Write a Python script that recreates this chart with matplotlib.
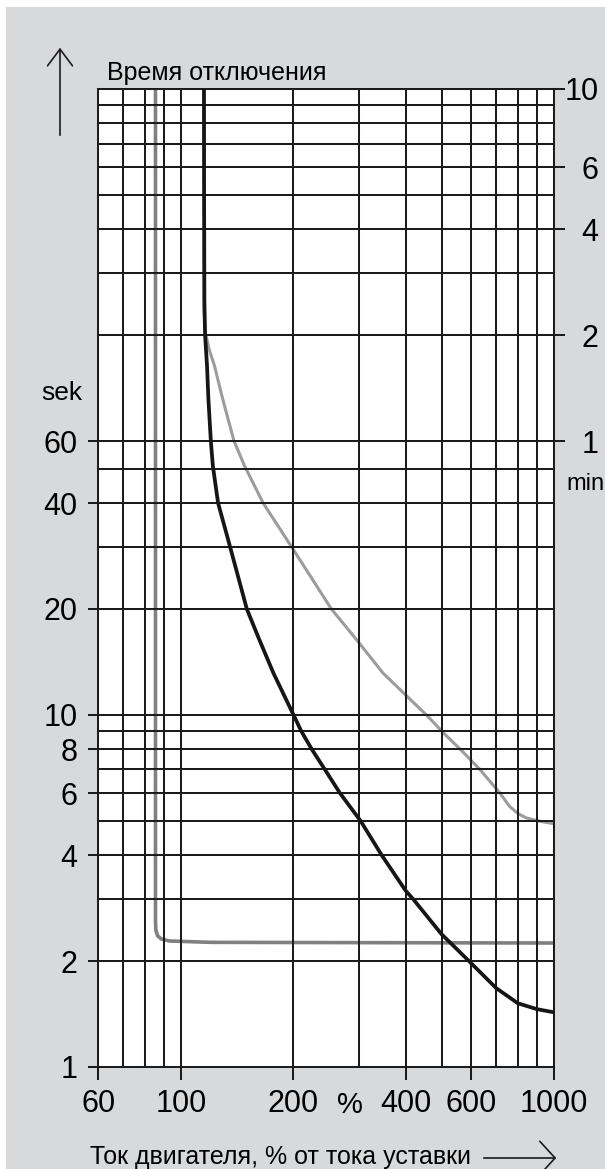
import numpy as np
import matplotlib.pyplot as plt
from matplotlib.patches import Rectangle

# grid and tick values (current in %, time in s)
x_grid = [60, 70, 80, 90, 100, 200, 300, 400, 500, 600, 700, 800, 900, 1000]
y_grid = [1, 2, 3, 4, 5, 6, 7, 8, 9, 10, 20, 30, 40, 50, 60,
          120, 180, 240, 300, 360, 420, 480, 540, 600]
x_ticks = [60, 100, 200, 400, 600, 1000]
sec_ticks = [1, 2, 4, 6, 8, 10, 20, 40, 60]
min_ticks = [1, 2, 4, 6, 10]

# dark curve
black_x = [115.2, 115.3, 115.5, 116.0, 117.4, 118.4, 120.2, 121.7, 125.7, 135.4,
           150.1, 162, 176.9, 200.3, 210, 224, 243, 266.7, 303, 345, 400, 419,
           500, 526, 600, 700, 800, 900, 1000]
black_t = [600, 300, 150, 120, 98, 79, 60, 51, 40, 30,
           20, 16.4, 13.15, 10, 9, 8, 7, 6, 5, 4, 3.17, 3,
           2.38, 2.26, 1.97, 1.675, 1.517, 1.46, 1.43]

# light gray curve
gray_x = [115.3, 115.3, 116.2, 119.0, 123, 129.3, 138.7, 148, 166, 198,
          253, 295, 348, 400, 455, 505, 560, 633, 716, 760, 800, 843, 916, 1000]
gray_t = [600, 140, 122, 109, 98, 79, 60, 51, 40, 30,
          20, 16.4, 13.15, 11.4, 10, 8.9, 8, 7, 6.0, 5.5, 5.25, 5.10, 4.99, 4.91]

# gray limit curve (vertical + horizontal)
limit_x = [85.4, 85.4, 85.6, 86.5, 88.5, 93, 120, 1000]
limit_t = [600, 2.6, 2.45, 2.36, 2.31, 2.28, 2.26, 2.25]

plt.rcParams['font.family'] = ['Liberation Sans', 'DejaVu Sans']
ink = '#1c1c1c'

fig = plt.figure(figsize=(6.05, 11.69), dpi=100)
fig.patch.set_facecolor('white')
fig.add_artist(Rectangle((6 / 605, 0), 1, (1169 - 7) / 1169, transform=fig.transFigure,
                         facecolor='#d8d9db', edgecolor='none', zorder=0))

ax = fig.add_axes([98.3 / 605, 102 / 1169, 455.7 / 605, 978 / 1169])
ax.set_facecolor('white')
ax.set_xscale('log')
ax.set_yscale('log')
ax.set_xlim(60, 1000)
ax.set_ylim(1, 600)

ax.plot(limit_x, limit_t, color='#808080', lw=2.6, zorder=1, solid_capstyle='butt')
ax.plot(gray_x, gray_t, color='#9c9c9c', lw=2.2, zorder=1)
ax.plot(black_x, black_t, color='#161616', lw=2.7, zorder=3)

ax.set_xticks(x_grid, labels=[''] * len(x_grid), minor=True)
ax.set_yticks(y_grid, labels=[''] * len(y_grid), minor=True)
ax.set_xticks(x_ticks, labels=[str(v) for v in x_ticks])
ax.set_yticks(sec_ticks, labels=[str(v) for v in sec_ticks])
ax.grid(which='both', color=ink, lw=1.45)
ax.tick_params(which='minor', length=0)
ax.tick_params(axis='x', which='major', length=9, width=1.45, color=ink,
               labelsize=22, pad=7, direction='out')
ax.tick_params(axis='y', which='major', length=7, width=1.45, color=ink,
               labelsize=22, pad=8, direction='out')
for s in ax.spines.values():
    s.set_color(ink)
    s.set_linewidth(1.45)

# right axis in minutes
ax2 = ax.twinx()
ax2.set_yscale('log')
ax2.set_ylim(1, 600)
ax2.set_yticks([], minor=True)
ax2.set_yticks([m * 60 for m in min_ticks], labels=[str(m) for m in min_ticks])
ax2.tick_params(axis='y', length=8, width=1.45, color=ink, labelsize=22, pad=24)
for lbl in ax2.get_yticklabels():
    lbl.set_horizontalalignment('right')
for s in ax2.spines.values():
    s.set_visible(False)

H = 1169
fig.text(107 / 605, (H - 80) / H, 'Время отключения', fontsize=18, va='baseline', ha='left')
fig.text(62 / 605, (H - 400) / H, 'sek', fontsize=19, va='baseline', ha='center')
fig.text(566 / 605, (H - 490) / H, 'min', fontsize=17, va='baseline', ha='left')
fig.text(350 / 605, (H - 1105) / H, '%', fontsize=21, va='center', ha='center')
fig.text(90 / 605, (H - 1164) / H, 'Ток двигателя, % от тока уставки', fontsize=18,
         va='baseline', ha='left')

plt.annotate('', xy=(60, H - 45), xytext=(60, H - 138), xycoords='figure pixels',
             arrowprops=dict(arrowstyle='->,head_length=0.6,head_width=0.45',
                             lw=1.2, color=ink, mutation_scale=20))
plt.annotate('', xy=(559, H - 1158), xytext=(481, H - 1158), xycoords='figure pixels',
             arrowprops=dict(arrowstyle='->,head_length=0.55,head_width=0.6',
                             lw=1.2, color=ink, mutation_scale=20))

fig.savefig('out.png', dpi=100)
